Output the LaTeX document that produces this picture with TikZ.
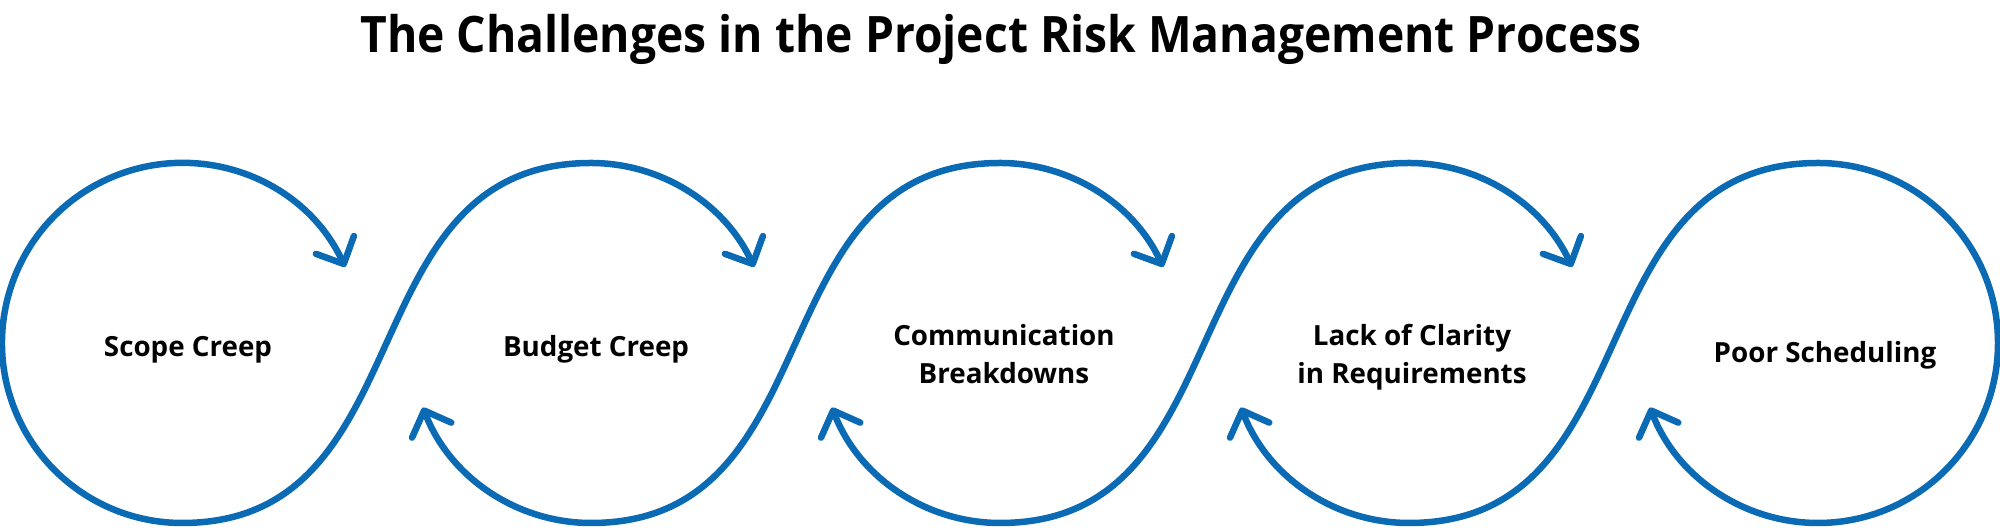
\documentclass[tikz,border=0pt]{standalone}
\usepackage{fontspec}
\setmainfont{Open Sans}
\newfontfamily\titlefont{Open Sans}[FakeStretch=0.92]
\usepackage{tikz}
\usetikzlibrary{arrows.meta}
\usepackage{xcolor}
\definecolor{riskblue}{RGB}{10,106,180}

\begin{document}
\begin{tikzpicture}[
  flow/.style={draw=riskblue, line width=1.85pt, line cap=round,
    {Straight Barb[length=2.1mm,width=4.2mm,round]}-{Straight Barb[length=2.1mm,width=4.2mm,round]}},
  label/.style={font=\bfseries\fontsize{7.9}{10.8}\selectfont, align=center, inner sep=0pt}]
 \pgfmathsetmacro{\r}{1.8}
 \useasboundingbox (0,0) rectangle (20,5.29);

 \node[font=\titlefont\bfseries\fontsize{14.3}{17}\selectfont, anchor=base, inner sep=0pt] (title) at (10.01,4.76)
   {The Challenges in the Project Risk Management Process};

 % loop centres and tops
 \foreach \i in {1,...,5}{
   \coordinate (c\i) at ({1.82+4.09*(\i-1)},1.86);
   \coordinate (top\i) at ({1.82+4.09*(\i-1)},3.66);
 }

 \foreach \i/\sa/\ea [evaluate=\i as \nx using int(\i+1)] in {1/25/25, 2/201/25, 3/201/25, 4/201/-159}
   \draw[flow] (c\i) ++(\sa:\r) arc[start angle=\sa, end angle=270, radius=\r]
     .. controls +(2.45,0) and +(-2.45,0) .. (top\nx)
     arc[start angle=90, end angle=\ea, radius=\r];

 \node[label, anchor=base] (scope) at ([xshift=0.06cm,yshift=-0.14cm]c1) {Scope Creep};
 \node[label, anchor=base] (budget) at ([xshift=0.05cm,yshift=-0.14cm]c2) {Budget Creep};
 \node[label] (comm) at ([xshift=0.04cm,yshift=-0.11cm]c3) {Communication\\Breakdowns};
 \node[label] (clarity) at ([xshift=0.03cm,yshift=-0.14cm]c4) {Lack of Clarity\\in Requirements};
 \node[label, anchor=base] (sched) at ([xshift=0.07cm,yshift=-0.2cm]c5) {Poor Scheduling};
\end{tikzpicture}
\end{document}
